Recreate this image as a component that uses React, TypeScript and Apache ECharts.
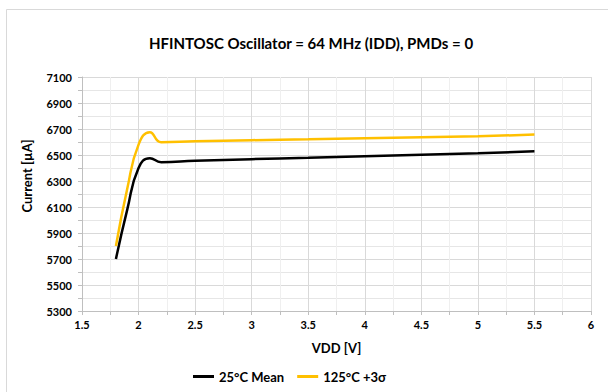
import React, { useEffect, useRef } from "react";
import * as echarts from "echarts";

const vdd = [1.8, 1.9, 2.0, 2.1, 2.2, 2.5, 3.0, 3.5, 4.0, 4.5, 5.0, 5.5];
const mean25 = [5700, 6080, 6400, 6475, 6445, 6455, 6468, 6478, 6490, 6502, 6513, 6528];
const sigma125 = [5800, 6240, 6580, 6675, 6598, 6605, 6614, 6621, 6628, 6636, 6644, 6657];
const seriesNames = ["25°C Mean", "125°C +3σ"];
const colors = ["#000000", "#FFC000"];

const FONT = "Lato, 'Open Sans', sans-serif";

export default function App() {
  const ref = useRef<HTMLDivElement>(null);
  useEffect(() => {
    if (!ref.current) return;
    const chart = echarts.init(ref.current, null, { renderer: "svg" });
    const mk = (arr: number[]) => vdd.map((x, i) => [x, arr[i]]);
    chart.setOption({
      animation: false,
      backgroundColor: "#ffffff",
      textStyle: { fontFamily: FONT },
      title: {
        text: "HFINTOSC Oscillator = 64 MHz (IDD), PMDs = 0",
        left: 306,
        textAlign: "center",
        top: 30,
        textStyle: { fontFamily: FONT, fontSize: 15, fontWeight: "bold", color: "#000" },
      },
      grid: { left: 82, right: 17, top: 77, bottom: 81, containLabel: false },
      xAxis: {
        type: "value",
        min: 1.5,
        max: 6,
        interval: 0.5,
        name: "VDD [V]",
        nameLocation: "middle",
        nameGap: 30,
        nameTextStyle: { fontFamily: FONT, fontSize: 13, fontWeight: "bold", color: "#000" },
        axisLine: { show: true, lineStyle: { color: "#bfbfbf" } },
        axisTick: { show: true, length: 4, lineStyle: { color: "#bfbfbf" } },
        minorTick: { show: true, splitNumber: 2, length: 4, lineStyle: { color: "#bfbfbf" } },
        axisLabel: { fontFamily: FONT, fontSize: 11, fontWeight: "bold", color: "#000", margin: 8 },
        splitLine: { show: true, lineStyle: { color: "#d9d9d9" } },
        minorSplitLine: { show: true, lineStyle: { color: "#efefef" } },
      },
      yAxis: {
        type: "value",
        min: 5300,
        max: 7100,
        interval: 200,
        axisLine: { show: true, lineStyle: { color: "#bfbfbf" } },
        axisTick: { show: true, length: 4, lineStyle: { color: "#bfbfbf" } },
        minorTick: { show: true, splitNumber: 2, length: 4, lineStyle: { color: "#bfbfbf" } },
        axisLabel: {
          fontFamily: FONT,
          fontSize: 11,
          fontWeight: "bold",
          color: "#000",
          margin: 10,
          formatter: (v: number) => String(v),
        },
        splitLine: { show: true, lineStyle: { color: "#d9d9d9" } },
        minorSplitLine: { show: true, lineStyle: { color: "#e6e6e6" } },
      },
      legend: {
        left: 188,
        top: 365,
        itemWidth: 21,
        itemHeight: 3,
        itemGap: 13,
        icon: "rect",
        data: seriesNames,
        textStyle: { fontFamily: FONT, fontSize: 13, fontWeight: "bold", color: "#000" },
      },
      graphic: [
        {
          type: "rect",
          shape: { x: 6.5, y: 9.5, width: 700, height: 500 },
          style: { fill: "none", stroke: "#d9d9d9", lineWidth: 1 },
          silent: true,
        },
        {
          type: "text",
          x: 27,
          y: 176,
          rotation: Math.PI / 2,
          style: {
            text: "Current [µA]",
            fontFamily: FONT,
            fontSize: 13,
            fontWeight: "bold",
            fill: "#000",
            align: "center",
            verticalAlign: "middle",
          },
        },
      ],
      series: [
        {
          name: seriesNames[0],
          type: "line",
          data: mk(mean25),
          smooth: 0.5,
          showSymbol: false,
          lineStyle: { color: colors[0], width: 2.5 },
          itemStyle: { color: colors[0] },
        },
        {
          name: seriesNames[1],
          type: "line",
          data: mk(sigma125),
          smooth: 0.5,
          showSymbol: false,
          lineStyle: { color: colors[1], width: 2.5 },
          itemStyle: { color: colors[1] },
        },
      ],
    });
    return () => chart.dispose();
  }, []);
  return <div ref={ref} style={{ width: 608, height: 392, position: "absolute", left: 0, top: 0 }} />;
}
